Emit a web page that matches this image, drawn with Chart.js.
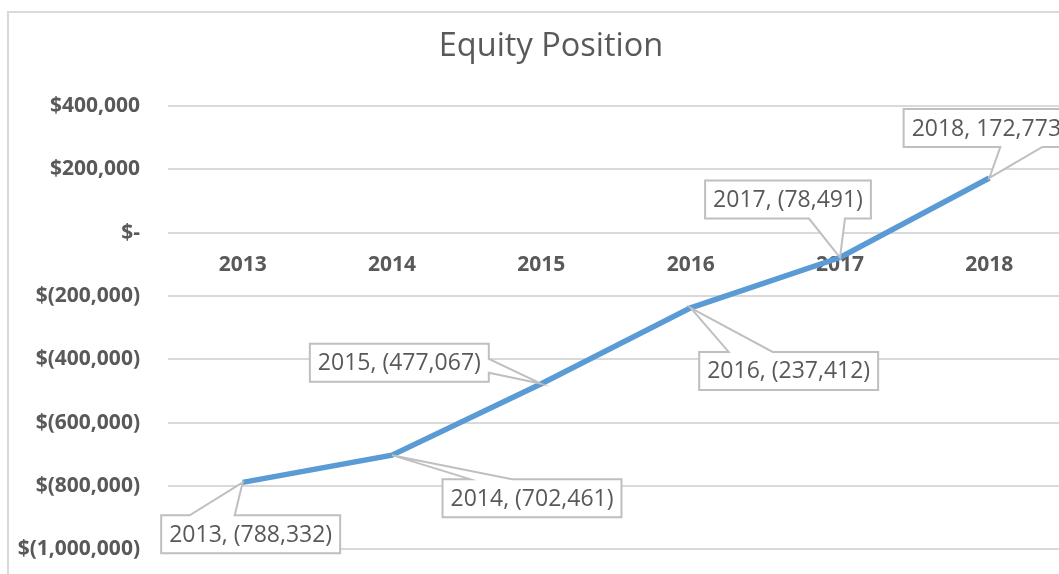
<!DOCTYPE html>
<html>
<head>
<meta charset="utf-8">
<script src="https://cdn.jsdelivr.net/npm/chart.js@4/dist/chart.umd.min.js"></script>
<style>
  html, body { margin: 0; padding: 0; background: #fff; overflow: hidden; width: 1059px; height: 574px; }
  #frame { position: absolute; left: 7px; top: 11px; width: 1100px; height: 600px;
           border-left: 2px solid #d9d9d9; border-top: 2px solid #d9d9d9; }
  #c { position: absolute; left: 0; top: 0; }
</style>
</head>
<body>
<div id="frame"></div>
<canvas id="c" width="1064" height="590" style="width:1064px;height:590px"></canvas>
<script>
const chartTitle = 'Equity Position';
const years = ['2013', '2014', '2015', '2016', '2017', '2018'];
const equity = [-788332, -702461, -477067, -237412, -78491, 172773];
const yMin = -1000000;
const yMax = 400000;
const yStep = 200000;

function fmtMoney(v) {
  if (v === 0) return '$-';
  const s = Math.abs(v).toLocaleString('en-US');
  return v < 0 ? '$(' + s + ')' : '$' + s;
}
function fmtNum(v) {
  const s = Math.abs(v).toLocaleString('en-US');
  return v < 0 ? '(' + s + ')' : s;
}

// callout placement (box centre offset from point, wedge base on an edge relative to box centre)
const calloutLayout = [
  { ox: 8,    oy: 52,  edge: 'top',    a: -61, b: -16 },
  { ox: 140,  oy: 43,  edge: 'top',    a: -62, b: -20 },
  { ox: -142, oy: -21, edge: 'right',  a: -4,  b: 10 },
  { ox: 98,   oy: 63,  edge: 'top',    a: -60, b: -16 },
  { ox: -52,  oy: -58, edge: 'bottom', a: 21,  b: 57 },
  { ox: -3,   oy: -50, edge: 'bottom', a: 14,  b: 56 }
];

const titlePlugin = {
  id: 'excelTitle',
  afterDraw(chart) {
    const ctx = chart.ctx;
    ctx.save();
    ctx.font = '32.5px "Open Sans"';
    ctx.fillStyle = '#595959';
    ctx.textAlign = 'center';
    ctx.textBaseline = 'alphabetic';
    ctx.fillText(chartTitle, 551, 56);
    ctx.restore();
  }
};

const calloutPlugin = {
  id: 'callouts',
  afterDatasetsDraw(chart) {
    const ctx = chart.ctx;
    const meta = chart.getDatasetMeta(0);
    ctx.save();
    ctx.font = '23px "Open Sans"';
    meta.data.forEach((pt, i) => {
      const L = calloutLayout[i];
      const text = years[i] + ', ' + fmtNum(equity[i]);
      const w = ctx.measureText(text).width + 16;
      const h = 38;
      const cx = pt.x + L.ox, cy = pt.y + L.oy;
      const x0 = cx - w / 2, y0 = cy - h / 2, x1 = cx + w / 2, y1 = cy + h / 2;
      ctx.beginPath();
      ctx.moveTo(x0, y0);
      if (L.edge === 'top') {
        ctx.lineTo(cx + L.a, y0); ctx.lineTo(pt.x, pt.y); ctx.lineTo(cx + L.b, y0);
      }
      ctx.lineTo(x1, y0);
      if (L.edge === 'right') {
        ctx.lineTo(x1, cy + L.a); ctx.lineTo(pt.x, pt.y); ctx.lineTo(x1, cy + L.b);
      }
      ctx.lineTo(x1, y1);
      if (L.edge === 'bottom') {
        ctx.lineTo(cx + L.b, y1); ctx.lineTo(pt.x, pt.y); ctx.lineTo(cx + L.a, y1);
      }
      ctx.lineTo(x0, y1);
      ctx.closePath();
      ctx.fillStyle = '#ffffff';
      ctx.fill();
      ctx.strokeStyle = '#bfbfbf';
      ctx.lineWidth = 2;
      ctx.stroke();
      ctx.fillStyle = '#595959';
      ctx.textAlign = 'center';
      ctx.textBaseline = 'middle';
      ctx.fillText(text, cx, cy + 1);
    });
    ctx.restore();
  }
};

new Chart(document.getElementById('c'), {
  type: 'line',
  data: {
    labels: years,
    datasets: [{
      data: equity,
      borderColor: '#5b9bd5',
      borderWidth: 5.5,
      pointRadius: 0,
      tension: 0,
      fill: false
    }]
  },
  options: {
    responsive: false,
    maintainAspectRatio: false,
    devicePixelRatio: 1,
    animation: false,
    layout: { padding: { left: 0, right: 0, top: 106, bottom: 0 } },
    plugins: {
      legend: { display: false },
      tooltip: { enabled: false },
      title: { display: false }
    },
    scales: {
      x: {
        position: { y: 0 },
        offset: true,
        grid: { display: false, drawTicks: false, offset: true },
        border: { display: false },
        ticks: {
          color: '#595959',
          font: { family: 'Open Sans', size: 21, weight: 'bold' },
          padding: 20,
          maxRotation: 0
        }
      },
      y: {
        min: yMin,
        max: yMax,
        afterFit(scale) { scale.width = 168; },
        grid: { color: '#d9d9d9', lineWidth: 2, drawTicks: false },
        border: { display: false },
        ticks: {
          stepSize: yStep,
          color: '#595959',
          font: { family: 'Open Sans', size: 21, weight: 'bold' },
          padding: 28,
          callback: (v) => fmtMoney(v)
        }
      }
    }
  },
  plugins: [calloutPlugin, titlePlugin]
});
</script>
</body>
</html>
